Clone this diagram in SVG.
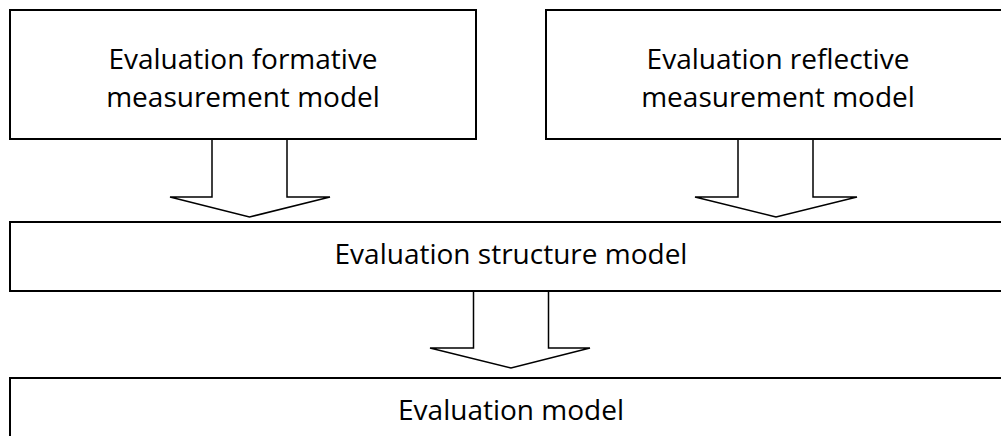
<svg xmlns="http://www.w3.org/2000/svg" width="1001" height="436" viewBox="0 0 1001 436">
<style>
.box{fill:#fff;stroke:#000;stroke-width:2}
.arr{fill:#fff;stroke:#000;stroke-width:1.5;stroke-linejoin:miter}
text{font-family:"Open Sans","Liberation Sans",sans-serif;font-size:28px;fill:#000;text-anchor:middle}
</style>
<rect width="1001" height="436" fill="#fff"/>
<g id="connectors">
<polyline class="arr" points="212,139 212,197 170,197 249.5,217 330,197 287,197 287,139"/>
<polyline class="arr" points="738,139 738,197 695,197 776,217 857,197 813,197 813,139"/>
<polyline class="arr" points="473.5,291 473.5,348 430,348 511,368 590,348 548.5,348 548.5,291"/>
</g>
<g id="formative">
<rect class="box" x="10" y="10" width="466" height="129"/>
<text x="243" y="68.5">Evaluation formative</text>
<text x="243" y="107">measurement model</text>
</g>
<g id="reflective">
<rect class="box" x="546" y="10" width="464" height="129"/>
<text x="778" y="68.5">Evaluation reflective</text>
<text x="778" y="107">measurement model</text>
</g>
<g id="structure">
<rect class="box" x="10" y="222" width="1002" height="69"/>
<text x="511" y="264">Evaluation structure model</text>
</g>
<g id="model">
<rect class="box" x="10" y="378" width="1002" height="80"/>
<text x="511" y="420">Evaluation model</text>
</g>
</svg>
